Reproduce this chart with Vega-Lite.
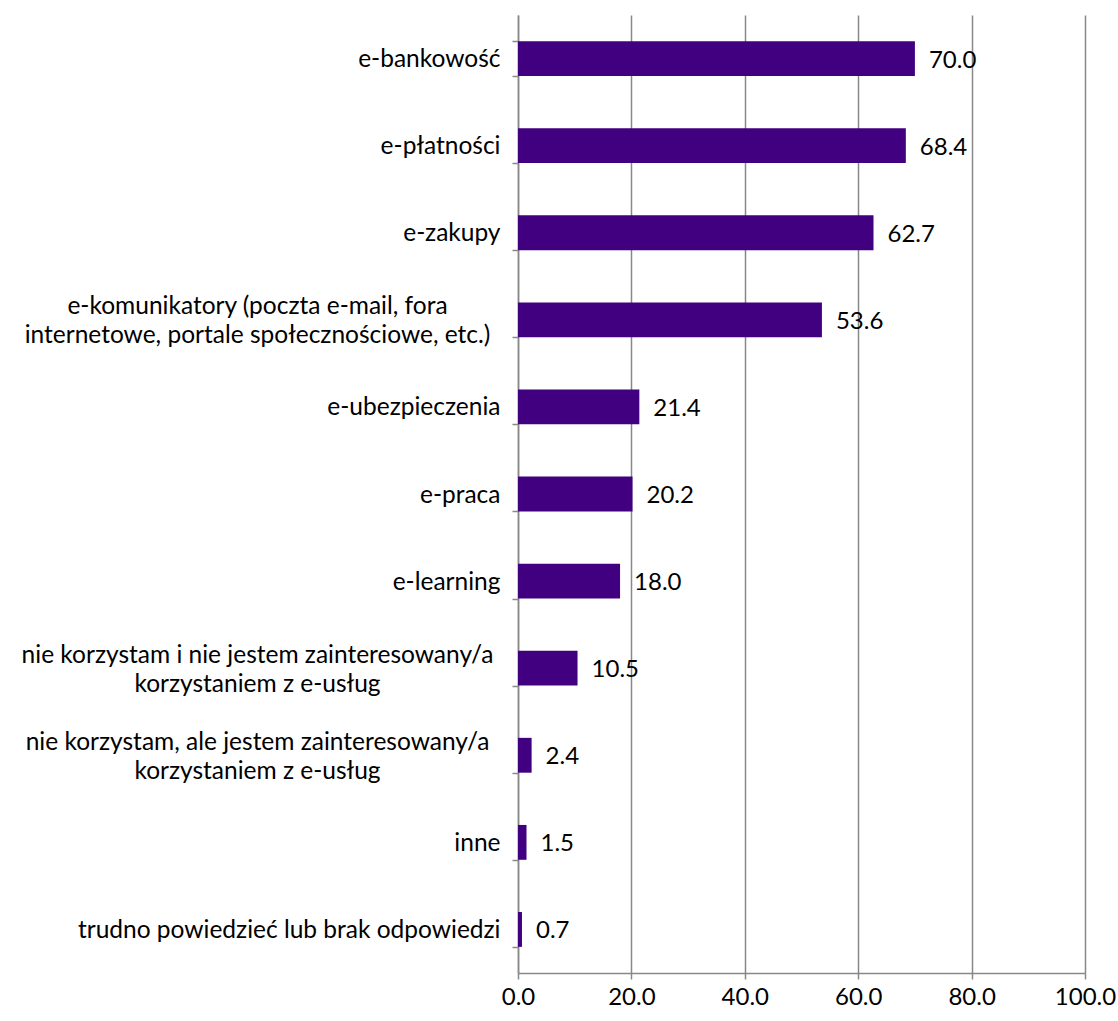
{
  "$schema": "https://vega.github.io/schema/vega-lite/v6.json",
  "autosize": "none",
  "padding": {"left": 518, "top": 15, "right": 33, "bottom": 48},
  "width": 567,
  "height": 958,
  "background": "white",
  "config": {
    "font": "Lato",
    "view": {"stroke": null},
    "axis": {"labelFont": "Lato", "labelColor": "black", "labelFontSize": 24, "domainColor": "#888888", "tickColor": "#888888", "gridColor": "#888888", "domainWidth": 1.5, "tickWidth": 1.5, "gridWidth": 1.5}
  },
  "data": {
    "values": [
      {"k": 1, "cat": "e-bankowość", "v": 70.0},
      {"k": 2, "cat": "e-płatności", "v": 68.4},
      {"k": 3, "cat": "e-zakupy", "v": 62.7},
      {"k": 4, "cat": "e-komunikatory (poczta e-mail, fora|internetowe, portale społecznościowe, etc.)", "v": 53.6},
      {"k": 5, "cat": "e-ubezpieczenia", "v": 21.4},
      {"k": 6, "cat": "e-praca", "v": 20.2},
      {"k": 7, "cat": "e-learning", "v": 18.0},
      {"k": 8, "cat": "nie korzystam i nie jestem zainteresowany/a|korzystaniem z e-usług", "v": 10.5},
      {"k": 9, "cat": "nie korzystam, ale jestem zainteresowany/a|korzystaniem z e-usług", "v": 2.4},
      {"k": 10, "cat": "inne", "v": 1.5},
      {"k": 11, "cat": "trudno powiedzieć lub brak odpowiedzi", "v": 0.7}
    ]
  },
  "encoding": {
    "y": {
      "field": "cat", "type": "nominal", "sort": {"field": "k", "order": "ascending"},
      "scale": {"paddingInner": 0.6, "paddingOuter": 0.3},
      "axis": {
        "title": null,
        "tickBand": "extent",
        "tickSize": 6,
        "labelFontSize": 24.5,
        "labelLineHeight": 29,
        "labelLimit": 0,
        "labelExpr": "split(datum.label, '|')",
        "labelAlign": {"condition": {"test": "indexof(datum.label, '|') >= 0", "value": "center"}, "value": "right"},
        "labelPadding": {"condition": {"test": "indexof(datum.label, '|') >= 0", "value": 255}, "value": 12},
        "labelOffset": {"condition": {"test": "indexof(datum.label, '|') >= 0", "value": -13}, "value": 1}
      }
    },
    "x": {
      "field": "v", "type": "quantitative",
      "scale": {"domain": [0, 100], "nice": false},
      "axis": {"title": null, "values": [0, 20, 40, 60, 80, 100], "format": ".1f", "tickSize": 6, "labelPadding": 6, "labelFlush": false, "labelOverlap": false, "grid": true}
    }
  },
  "layer": [
    {"mark": {"type": "bar", "color": "#40007f"}},
    {"mark": {"type": "text", "align": "left", "baseline": "middle", "dx": 14, "dy": 2, "fontSize": 24, "font": "Lato", "color": "black"},
     "encoding": {"text": {"field": "v", "type": "quantitative", "format": ".1f"}}}
  ]
}
